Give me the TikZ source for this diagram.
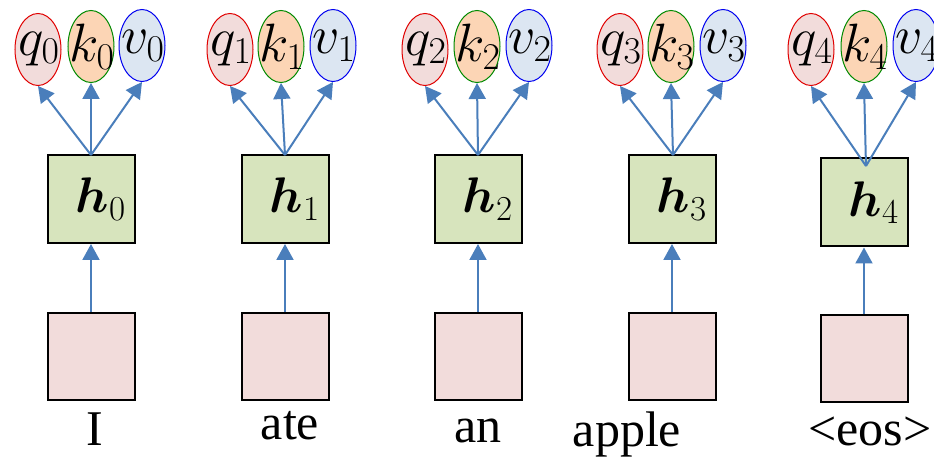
\RequirePackage{fix-cm}
\documentclass[tikz,border=0pt]{standalone}
\usepackage{amsmath,bm}
\usepackage{fontspec}
\newfontfamily\wordfont{Liberation Serif}
\usetikzlibrary{arrows.meta,shapes.geometric}
\definecolor{qfill}{HTML}{F2DCDB}
\definecolor{kfill}{HTML}{FCD5B5}
\definecolor{vfill}{HTML}{DCE6F2}
\definecolor{hfill}{HTML}{D7E4BD}
\definecolor{arrowblue}{HTML}{4A7EBB}
\definecolor{qline}{HTML}{E00000}
\definecolor{kline}{HTML}{008A00}
\definecolor{vline}{HTML}{0000F0}
\begin{document}
\begin{tikzpicture}[x=0.5pt,y=-0.5pt,
  ell/.style={ellipse, minimum width=23pt, minimum height=36pt, inner sep=0pt, line width=0.5pt},
  qell/.style={ell, draw=qline, fill=qfill},
  kell/.style={ell, draw=kline, fill=kfill},
  vell/.style={ell, draw=vline, fill=vfill},
  elltext/.style={font=\fontsize{27}{29}\selectfont, xshift=0.5pt},
  hbox/.style={draw=black, line width=1pt, fill=hfill, minimum width=43.5pt, minimum height=44pt, inner sep=0pt},
  xbox/.style={draw=black, line width=1pt, fill=qfill, minimum width=43.5pt, minimum height=43.5pt, inner sep=0pt},
  htext/.style={font=\fontsize{25}{28}\selectfont, xshift=5pt},
  word/.style={font=\wordfont\fontsize{25}{28}\selectfont, anchor=base, inner sep=0pt},
  arr/.style={draw=arrowblue, line width=1pt, -{Triangle[length=8pt,width=8.5pt]}}
]
\useasboundingbox (0,0) rectangle (934,460);
\foreach \i/\bx/\by/\py/\qx/\kx/\vx/\ox/\oy/\lx/\ly/\w in {
  0/91/199/356.5/38/91/142/91/155/95/445/I,
  1/285/199/356.5/230/281/333/285/155/290/440/ate,
  2/478/199/356.5/425/477/529/478/155/478/443/an,
  3/672/199/356.5/620/671/723/673/155/627/447/apple,
  4/864/202.5/359/811/864/916/866/166/870/445/{<eos>}}{
  \node[hbox, label={[htext]center:$\bm{h}_{\i}$}] (h\i) at (\bx,\by) {};
  \node[xbox] (x\i) at (\bx,\py) {};
  \node[qell, label={[elltext]center:$q_{\i}$}] (q\i) at (\qx,49.5) {};
  \node[kell, label={[elltext]center:$k_{\i}$}] (k\i) at (\kx,46.5) {};
  \node[vell, label={[elltext]center:$v_{\i}$}] (v\i) at (\vx,45.5) {};
  \node[word] (w\i) at (\lx,\ly) {\w};
  \coordinate (o\i) at (\ox,\oy);
  \draw[arr] (x\i.north) -- (h\i.south);
  \draw[arr] (o\i) -- (q\i.south);
  \draw[arr] (o\i) -- (k\i.south);
  \draw[arr] (o\i) -- (v\i.south);
}
\end{tikzpicture}
\end{document}
